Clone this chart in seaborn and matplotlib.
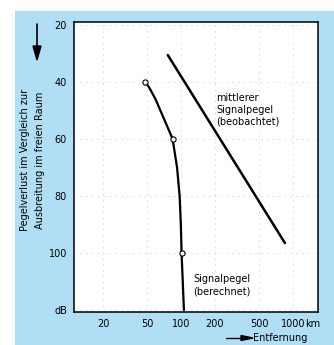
import numpy as np
import pandas as pd
import matplotlib.pyplot as plt
import seaborn as sns
from matplotlib.patches import Rectangle

# berechneter Signalpegel (Kurve)
calc_km = [48, 52, 59, 67, 76, 84, 92, 97, 99.5, 101, 106]
calc_db = [40, 42, 46, 51, 56, 60, 70, 80, 90, 100, 120]
# Messpunkte (Kreise)
pts_km = [48, 84, 101]
pts_db = [40, 60, 100]
# mittlerer Signalpegel (beobachtet)
obs_km = [76, 850]
obs_db = [30.5, 96.5]

x_ticks = [20, 50, 100, 200, 500, 1000]
x_labels = ['20', '50', '100', '200', '500', '1000']
y_ticks = [20, 40, 60, 80, 100, 120]
y_labels = ['20', '40', '60', '80', '100', 'dB']

sns.set_style("white")
plt.rcParams['font.family'] = ['DejaVu Sans']
plt.rcParams['text.color'] = 'black'
plt.rcParams['xtick.color'] = 'black'
plt.rcParams['ytick.color'] = 'black'

fig = plt.figure(figsize=(3.34, 3.45), dpi=100)
fig.patch.set_facecolor('white')
# blauer Hintergrund
fig.patches.append(Rectangle((15/334, 0), 1, 1 - 11/345, transform=fig.transFigure,
                             facecolor='#b0def4', edgecolor='none', zorder=-5))

ax = fig.add_axes([74/334, 1 - 312/345, 244/334, 290/345])
ax.set_zorder(2)
ax.set_facecolor('white')

calc = pd.DataFrame({'km': calc_km, 'db': calc_db})
obs = pd.DataFrame({'km': obs_km, 'db': obs_db})
pts = pd.DataFrame({'km': pts_km, 'db': pts_db})

sns.lineplot(data=calc, x='km', y='db', sort=False, estimator=None, color='black', lw=1.6, ax=ax)
sns.lineplot(data=obs, x='km', y='db', sort=False, estimator=None, color='black', lw=1.8, ax=ax)
sns.scatterplot(data=pts, x='km', y='db', marker='o', s=14, facecolor='white',
                edgecolor='black', linewidth=0.8, zorder=4, ax=ax)

ax.set_xscale('log')
ax.set_xlim(11, 1680)
ax.set_ylim(120.7, 18.9)
ax.set_xticks(x_ticks)
ax.set_xticklabels(x_labels)
ax.set_yticks(y_ticks)
ax.set_yticklabels(y_labels)
ax.minorticks_off()
ax.tick_params(length=0, labelsize=7, pad=5)
ax.set_xlabel('')
ax.set_ylabel('')
ax.grid(True, color='#d8d8d8', linestyle=(0, (2, 5)), lw=0.6)
for s in ax.spines.values():
    s.set_color('black')
    s.set_linewidth(1.1)

fig.text(305/334, 1 - 324/345, 'km', fontsize=7, va='center', ha='left')

# Beschriftungen
fig.text(216/334, 1 - 110/345, 'mittlerer\nSignalpegel\n(beobachtet)', fontsize=7,
         va='center', ha='left', linespacing=1.25, zorder=5)
fig.text(193/334, 1 - 285/345, 'Signalpegel\n(berechnet)', fontsize=7,
         va='center', ha='left', linespacing=1.25, zorder=5)

fig.text(25/334, 1 - 160/345, 'Pegelverlust im Vergleich zur', fontsize=7,
         rotation=90, va='center', ha='center')
fig.text(40/334, 1 - 160/345, 'Ausbreitung im freien Raum', fontsize=7,
         rotation=90, va='center', ha='center')

fig.add_artist(plt.Line2D([37/334, 37/334], [1 - 24/345, 1 - 50/345],
                          color='black', lw=1.2, transform=fig.transFigure))
fig.patches.append(plt.Polygon([[33/334, 1 - 46/345], [41/334, 1 - 46/345], [37/334, 1 - 60/345]],
                               closed=True, color='black', transform=fig.transFigure))

fig.add_artist(plt.Line2D([226/334, 245/334], [1 - 338/345, 1 - 338/345],
                          color='black', lw=1.0, transform=fig.transFigure))
fig.patches.append(plt.Polygon([[241/334, 1 - 335.5/345], [241/334, 1 - 340.5/345], [253/334, 1 - 338/345]],
                               closed=True, color='black', transform=fig.transFigure))
fig.text(253/334, 1 - 338/345, 'Entfernung', fontsize=7, va='center', ha='left')

fig.savefig('out.png', dpi=100)
